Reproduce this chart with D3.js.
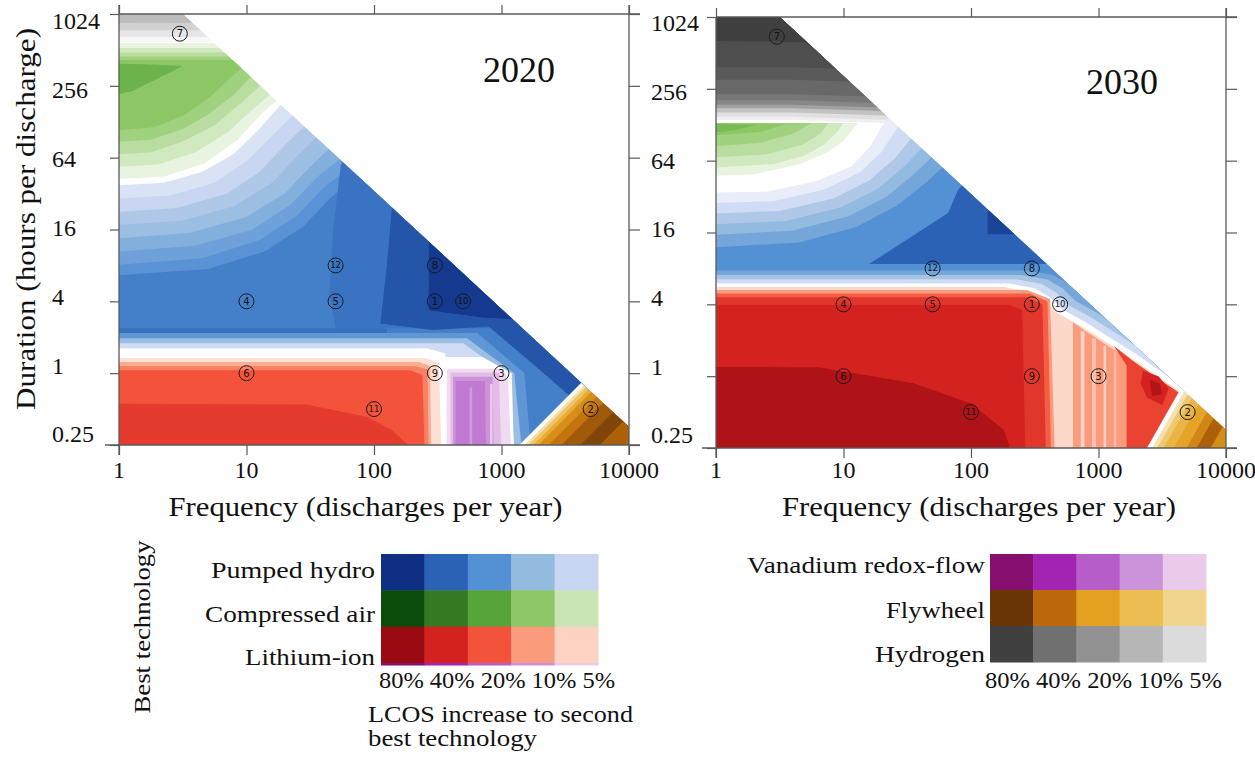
<!DOCTYPE html>
<html>
<head>
<meta charset="utf-8">
<script src="https://cdn.jsdelivr.net/npm/d3@7"></script>
<style>
  body { margin: 0; background: #fff; }
  text { font-family: "Liberation Serif", "Times New Roman", serif; fill: #111; }
</style>
</head>
<body>
<svg id="chart" width="1255" height="760"></svg>
<script>
/*global d3 */

//****************************1. Data

// axis ticks
const freqTicks = [1, 10, 100, 1000, 10000]
const durTicks = [0.25, 1, 4, 16, 64, 256, 1024]

// legend
const legendLevels = [80, 40, 20, 10, 5]
const legendLeft = ["Pumped hydro", "Compressed air", "Lithium-ion"]
const legendLeftKeys = ["P", "C", "L"]
const legendRight = ["Vanadium redox-flow", "Flywheel", "Hydrogen"]
const legendRightKeys = ["V", "F", "H"]

// numbered cases (same in both years)
const markerIds = [1, 2, 3, 4, 5, 6, 7, 8, 9, 10, 11, 12]
const markerFreq = [300, 5000, 1000, 10, 50, 10, 3, 300, 300, 500, 100, 50]
const markerDur = [4, 0.5, 1, 4, 4, 1, 700, 8, 1, 4, 0.5, 8]

// all shapes below are [log10(discharges per year), log2(hours per discharge)]
// feasible (triangular) area of the map
const feasible = [[0, 10], [0.5, 10], [4, -1.5], [4, -2], [0, -2]]

// contour bands, painted in order
// t = best technology, m = LCOS increase (%) to second best
const bands2020 = [
  {t:"H",m:1.5,p:[[-0.2,10.5],[4.5,10.5],[4.5,9.22],[-0.2,9.22]]},
  {t:"H",m:3,p:[[-0.2,10.5],[4.5,10.5],[4.5,9.36],[-0.2,9.36]]},
  {t:"H",m:6,p:[[-0.2,10.5],[4.5,10.5],[4.5,9.55],[-0.2,9.55]]},
  {t:"H",m:9,p:[[-0.2,10.5],[4.5,10.5],[4.5,9.8],[-0.2,9.75]]},
  {t:"C",m:2,p:[[-0.2,9.19],[4.5,9.19],[1.35,7.95],[1.12,7.23],[0.93,6.49],[0.67,5.84],[0.35,5.47],[-0.2,5.38]]},
  {t:"C",m:4,p:[[-0.2,9.05],[4.5,9.05],[1.3,8.1],[1.05,7.35],[0.85,6.7],[0.6,6.15],[0.3,5.8],[-0.2,5.72]]},
  {t:"C",m:6,p:[[-0.2,8.93],[4.5,8.93],[1.2,8.3],[0.95,7.5],[0.75,6.9],[0.5,6.45],[0.25,6.15],[-0.2,6.05]]},
  {t:"C",m:8,p:[[-0.2,8.82],[4.5,8.82],[1.1,8.5],[0.9,7.75],[0.7,7.2],[0.5,6.8],[0.25,6.5],[-0.2,6.4]]},
  {t:"C",m:10,p:[[-0.2,8.72],[4.5,8.72],[1.0,8.6],[0.88,8.25],[0.72,7.7],[0.52,7.2],[0.28,6.85],[-0.2,6.7]]},
  {t:"C",m:15,p:[[-0.2,8.63],[0.2,8.6],[0.5,8.55],[0.3,8.2],[0.1,7.85],[-0.2,7.6]]},
  {t:"P",m:3,p:[[-0.2,5.19],[0.35,5.3],[0.65,5.6],[0.9,6.1],[1.1,6.8],[1.35,7.8],[4.5,7.8],[4.5,-2.5],[-0.2,-2.5]]},
  {t:"P",m:5,p:[[-0.2,4.82],[0.4,4.95],[0.75,5.3],[1.0,5.9],[1.2,6.6],[1.45,7.5],[4.5,7.5],[4.5,-2.5],[-0.2,-2.5]]},
  {t:"P",m:7,p:[[-0.2,4.45],[0.45,4.6],[0.85,5.0],[1.1,5.6],[1.3,6.35],[1.55,7.2],[4.5,7.2],[4.5,-2.5],[-0.2,-2.5]]},
  {t:"P",m:9,p:[[-0.2,4.08],[0.5,4.25],[0.9,4.65],[1.2,5.3],[1.4,6.05],[1.65,6.9],[4.5,6.9],[4.5,-2.5],[-0.2,-2.5]]},
  {t:"P",m:12,p:[[-0.2,3.7],[0.55,3.9],[1.0,4.35],[1.3,5.0],[1.5,5.75],[1.75,6.6],[4.5,6.6],[4.5,-2.5],[-0.2,-2.5]]},
  {t:"P",m:15,p:[[-0.2,3.33],[0.6,3.55],[1.05,4.0],[1.35,4.7],[1.55,5.45],[1.85,6.3],[4.5,6.3],[4.5,-2.5],[-0.2,-2.5]]},
  {t:"P",m:19,p:[[-0.2,2.96],[0.65,3.2],[1.1,3.7],[1.4,4.4],[1.6,5.15],[1.9,6.0],[4.5,6.0],[4.5,-2.5],[-0.2,-2.5]]},
  {t:"P",m:26,p:[[-0.2,2.68],[0.7,2.9],[1.15,3.4],[1.45,4.1],[1.65,4.85],[1.95,5.75],[4.5,5.75],[4.5,-2.5],[-0.2,-2.5]]},
  {t:"P",m:31,p:[[1.8,6.2],[1.74,5.8],[1.68,3.98],[1.65,2.22],[1.7,1.25],[4.5,1.25],[4.5,6.2]]},
  {t:"P",m:33,p:[[-0.2,1.25],[2.1,1.25],[2.1,1.12],[-0.2,1.12]]},
  {t:"P",m:48,p:[[2.2,5.0],[2.14,4.6],[2.1,2.96],[2.05,1.38],[2.46,1.2],[2.9,1.3],[3.33,0],[3.75,-1.3],[4.5,-1.3],[4.5,5.0]]},
  {t:"P",m:70,p:[[2.43,4.0],[2.43,1.75],[2.85,1.55],[3.1,1.5],[3.5,1.5],[3.5,4.0]]},
  {t:"P",m:18,p:[[-0.2,1.12],[2.81,1.12],[3.18,0],[3.24,-2.5],[-0.2,-2.5]]},
  {t:"P",m:9,p:[[-0.2,0.97],[2.73,0.97],[3.1,0],[3.17,-2.5],[-0.2,-2.5]]},
  {t:"P",m:4,p:[[-0.2,0.83],[2.7,0.83],[3.03,0],[3.12,-2.5],[-0.2,-2.5]]},
  {t:"L",m:0,p:[[-0.2,0.69],[2.42,0.69],[2.56,0.55],[2.58,-2.5],[-0.2,-2.5]]},
  {t:"L",m:3,p:[[-0.2,0.42],[2.4,0.42],[2.51,0.3],[2.53,-2.5],[-0.2,-2.5]]},
  {t:"L",m:8,p:[[-0.2,0.31],[2.35,0.31],[2.44,0.2],[2.45,-2.5],[-0.2,-2.5]]},
  {t:"L",m:13,p:[[-0.2,0.2],[2.32,0.2],[2.42,0.1],[2.43,-2.5],[-0.2,-2.5]]},
  {t:"L",m:20,p:[[-0.2,0.08],[2.28,0.08],[2.38,-0.05],[2.4,-2.5],[-0.2,-2.5]]},
  {t:"L",m:28,p:[[-0.2,-0.85],[1.47,-0.87],[1.95,-1.22],[2.14,-1.59],[2.27,-2.0],[2.3,-2.5],[-0.2,-2.5]]},
  {t:"V",m:0,p:[[2.53,0.45],[2.85,0.45],[3.08,0],[3.1,-2.5],[2.53,-2.5]]},
  {t:"V",m:3,p:[[2.57,0.12],[3.0,0.12],[3.05,-0.1],[3.08,-2.5],[2.57,-2.5]]},
  {t:"V",m:6,p:[[2.6,0.02],[2.98,0.02],[3.0,-2.5],[2.6,-2.5]]},
  {t:"V",m:10,p:[[2.62,-0.1],[2.93,-0.1],[2.94,-2.5],[2.62,-2.5]]},
  {t:"V",m:14,p:[[2.64,-0.22],[2.87,-0.22],[2.88,-2.5],[2.64,-2.5]]},
  {t:"V",m:9,p:[[2.75,-0.4],[2.77,-0.4],[2.77,-2.5],[2.75,-2.5]]},
  {t:"V",m:5,p:[[2.91,-0.3],[2.93,-0.3],[2.93,-2.5],[2.91,-2.5]]},
  {t:"F",m:0,p:[[3.0,-2.5],[3.84,0.5],[4.6,0.5],[4.6,-2.5]]},
  {t:"F",m:3,p:[[3.04,-2.5],[3.88,0.5],[4.6,0.5],[4.6,-2.5]]},
  {t:"F",m:8,p:[[3.07,-2.5],[3.91,0.5],[4.6,0.5],[4.6,-2.5]]},
  {t:"F",m:15,p:[[3.11,-2.5],[3.95,0.5],[4.6,0.5],[4.6,-2.5]]},
  {t:"F",m:25,p:[[3.15,-2.5],[3.99,0.5],[4.6,0.5],[4.6,-2.5]]},
  {t:"F",m:35,p:[[3.23,-2.5],[4.07,0.5],[4.6,0.5],[4.6,-2.5]]},
  {t:"F",m:50,p:[[3.33,-2.5],[4.17,0.5],[4.6,0.5],[4.6,-2.5]]},
  {t:"F",m:65,p:[[3.48,-2.5],[4.32,0.5],[4.6,0.5],[4.6,-2.5]]},
  {t:"F",m:45,p:[[3.63,-2.5],[4.47,0.5],[4.6,0.5],[4.6,-2.5]]}
]

const bands2030 = [
  {t:"H",m:2,p:[[-0.2,10.5],[4.5,10.5],[4.5,6.93],[1.5,7.03],[0.6,7.13],[-0.2,7.13]]},
  {t:"H",m:4,p:[[-0.2,10.5],[4.5,10.5],[4.5,7.02],[1.5,7.12],[0.6,7.22],[-0.2,7.22]]},
  {t:"H",m:8,p:[[-0.2,10.5],[4.5,10.5],[4.5,7.14],[1.5,7.24],[0.6,7.34],[-0.2,7.34]]},
  {t:"H",m:15,p:[[-0.2,10.5],[4.5,10.5],[4.5,7.26],[1.5,7.36],[0.6,7.46],[-0.2,7.46]]},
  {t:"H",m:25,p:[[-0.2,10.5],[4.5,10.5],[4.5,7.36],[1.5,7.46],[0.6,7.56],[-0.2,7.56]]},
  {t:"H",m:35,p:[[-0.2,10.5],[4.5,10.5],[4.5,7.48],[1.5,7.58],[0.6,7.68],[-0.2,7.68]]},
  {t:"H",m:45,p:[[-0.2,10.5],[4.5,10.5],[4.5,7.65],[1.5,7.75],[0.6,7.85],[-0.2,7.85]]},
  {t:"H",m:55,p:[[-0.2,10.5],[4.5,10.5],[4.5,8.05],[1.5,8.15],[0.6,8.25],[-0.2,8.25]]},
  {t:"H",m:65,p:[[-0.2,10.5],[4.5,10.5],[4.5,8.4],[1.5,8.5],[0.6,8.6],[-0.2,8.6]]},
  {t:"H",m:80,p:[[-0.2,10.5],[4.5,10.5],[4.5,8.7],[0.9,8.7],[0.7,9.3],[-0.2,9.34]]},
  {t:"C",m:2,p:[[-0.2,7.05],[1.12,7.05],[1.08,6.9],[1.0,6.55],[0.87,6.23],[0.66,5.9],[0.3,5.62],[-0.2,5.55]]},
  {t:"C",m:4,p:[[-0.2,7.05],[1.0,7.05],[0.95,6.8],[0.85,6.45],[0.7,6.15],[0.45,5.9],[-0.2,5.78]]},
  {t:"C",m:6,p:[[-0.2,7.05],[0.88,7.05],[0.82,6.75],[0.68,6.45],[0.4,6.18],[-0.2,6.05]]},
  {t:"C",m:8,p:[[-0.2,7.05],[0.75,7.05],[0.6,6.75],[0.35,6.5],[-0.2,6.35]]},
  {t:"C",m:10,p:[[-0.2,7.05],[0.55,7.02],[0.35,6.8],[-0.2,6.65]]},
  {t:"C",m:13,p:[[-0.2,7.03],[0.32,7.0],[0.15,6.85],[-0.2,6.72]]},
  {t:"P",m:2,p:[[-0.2,5.1],[0.41,5.14],[0.78,5.42],[1.06,5.84],[1.21,6.4],[1.3,6.95],[1.45,7.6],[4.5,7.6],[4.5,-2.5],[-0.2,-2.5]]},
  {t:"P",m:4,p:[[-0.2,4.8],[0.45,4.87],[0.85,5.2],[1.13,5.68],[1.3,6.25],[1.42,6.9],[1.6,7.4],[4.5,7.4],[4.5,-2.5],[-0.2,-2.5]]},
  {t:"P",m:7,p:[[-0.2,4.5],[0.5,4.6],[0.92,4.95],[1.2,5.45],[1.4,6.05],[1.55,6.7],[1.75,7.2],[4.5,7.2],[4.5,-2.5],[-0.2,-2.5]]},
  {t:"P",m:10,p:[[-0.2,4.2],[0.55,4.32],[0.98,4.7],[1.27,5.22],[1.48,5.85],[1.65,6.5],[1.85,7.0],[4.5,7.0],[4.5,-2.5],[-0.2,-2.5]]},
  {t:"P",m:14,p:[[-0.2,3.9],[0.6,4.05],[1.04,4.45],[1.34,5.0],[1.56,5.65],[1.75,6.3],[1.95,6.8],[4.5,6.8],[4.5,-2.5],[-0.2,-2.5]]},
  {t:"P",m:20,p:[[-0.2,3.55],[0.65,3.72],[1.1,4.15],[1.42,4.75],[1.65,5.4],[1.85,6.05],[2.05,6.6],[4.5,6.6],[4.5,-2.5],[-0.2,-2.5]]},
  {t:"P",m:40,p:[[1.2,3.12],[1.82,4.54],[1.9,5.2],[2.0,5.6],[4.5,5.6],[4.5,3.12]]},
  {t:"P",m:60,p:[[2.13,3.95],[2.13,4.6],[2.7,4.6],[2.6,3.95]]},
  {t:"P",m:14,p:[[-0.2,2.94],[2.45,2.94],[2.65,2.81],[2.77,2.56],[2.87,2.21],[3.05,1.86],[3.25,1.41],[3.45,0.96],[3.65,0.46],[3.95,-0.24],[3.95,-2.5],[-0.2,-2.5]]},
  {t:"P",m:8,p:[[-0.2,2.82],[2.4,2.82],[2.6,2.69],[2.72,2.44],[2.82,2.09],[3.0,1.74],[3.2,1.29],[3.4,0.84],[3.6,0.34],[3.9,-0.36],[3.9,-2.5],[-0.2,-2.5]]},
  {t:"P",m:4,p:[[-0.2,2.7],[2.35,2.7],[2.55,2.57],[2.67,2.32],[2.77,1.97],[2.95,1.62],[3.15,1.17],[3.35,0.72],[3.55,0.22],[3.85,-0.48],[3.85,-2.5],[-0.2,-2.5]]},
  {t:"L",m:0,p:[[-0.2,2.58],[2.3,2.58],[2.5,2.45],[2.62,2.2],[2.72,1.85],[2.9,1.5],[3.1,1.05],[3.3,0.6],[3.5,0.1],[3.8,-0.6],[3.8,-2.5],[-0.2,-2.5]]},
  {t:"L",m:4,p:[[-0.2,2.48],[2.26,2.48],[2.46,2.35],[2.58,2.1],[2.68,1.75],[2.86,1.4],[3.06,0.95],[3.26,0.5],[3.46,0.0],[3.76,-0.7],[3.76,-2.5],[-0.2,-2.5]]},
  {t:"L",m:10,p:[[2.8,1.5],[2.88,1.3],[3.04,0.92],[3.24,0.47],[3.44,-0.03],[3.74,-0.72],[3.74,-2.5],[2.8,-2.5]]},
  {t:"L",m:5,p:[[2.86,1.25],[2.89,1.25],[2.89,-2.5],[2.86,-2.5]]},
  {t:"L",m:6,p:[[2.95,1.05],[2.98,1.05],[2.98,-2.5],[2.95,-2.5]]},
  {t:"L",m:5,p:[[3.04,0.85],[3.06,0.85],[3.06,-2.5],[3.04,-2.5]]},
  {t:"L",m:7,p:[[3.12,0.7],[3.14,0.7],[3.14,-2.5],[3.12,-2.5]]},
  {t:"L",m:25,p:[[3.12,0.85],[3.26,0.45],[3.45,-0.02],[3.74,-0.72],[3.74,-2.5],[3.22,-2.5],[3.22,0.3]]},
  {t:"L",m:40,p:[[3.35,0.15],[3.47,0.0],[3.55,-0.35],[3.5,-0.8],[3.38,-0.6],[3.33,-0.2]]},
  {t:"L",m:60,p:[[3.4,-0.1],[3.48,-0.2],[3.5,-0.5],[3.42,-0.55]]},
  {t:"L",m:10,p:[[-0.2,2.4],[2.44,2.4],[2.62,2.15],[2.66,-2.5],[-0.2,-2.5]]},
  {t:"L",m:18,p:[[-0.2,2.3],[2.46,2.3],[2.6,2.08],[2.63,-2.5],[-0.2,-2.5]]},
  {t:"L",m:30,p:[[-0.2,2.2],[2.44,2.2],[2.56,2.0],[2.59,-2.5],[-0.2,-2.5]]},
  {t:"L",m:40,p:[[-0.2,1.98],[2.3,1.98],[2.4,1.85],[2.43,-2.5],[-0.2,-2.5]]},
  {t:"L",m:62,p:[[-0.2,0.26],[0.8,0.25],[1.55,-0.2],[2.0,-0.76],[2.26,-1.5],[2.35,-2.5],[-0.2,-2.5]]},
  {t:"F",m:0,p:[[3.3,-2.5],[3.78,0.5],[4.6,0.5],[4.6,-2.5]]},
  {t:"F",m:3,p:[[3.34,-2.5],[3.82,0.5],[4.6,0.5],[4.6,-2.5]]},
  {t:"F",m:7,p:[[3.38,-2.5],[3.86,0.5],[4.6,0.5],[4.6,-2.5]]},
  {t:"F",m:12,p:[[3.43,-2.5],[3.91,0.5],[4.6,0.5],[4.6,-2.5]]},
  {t:"F",m:18,p:[[3.51,-2.5],[3.99,0.5],[4.6,0.5],[4.6,-2.5]]},
  {t:"F",m:28,p:[[3.61,-2.5],[4.09,0.5],[4.6,0.5],[4.6,-2.5]]},
  {t:"F",m:45,p:[[3.69,-2.5],[4.17,0.5],[4.6,0.5],[4.6,-2.5]]},
  {t:"F",m:25,p:[[3.8,-2.5],[4.28,0.5],[4.6,0.5],[4.6,-2.5]]}
]

//****************************2. Styles & layout

// legend colours, columns 80% .. 5%
const palette = {
  P: ["#0f2f85", "#2b62b6", "#5490d4", "#93badf", "#c9d6f1"],
  C: ["#0a4d0a", "#347a25", "#57a53a", "#8dc765", "#c9e5b5"],
  L: ["#9a0a12", "#d42220", "#f4533b", "#fb9b7d", "#fcd2c2"],
  V: ["#860f6f", "#a323b3", "#b75dca", "#cb93d9", "#eacaeb"],
  F: ["#6a3608", "#bb690b", "#e4a020", "#ecbd52", "#f1d58c"],
  H: ["#404040", "#707070", "#929292", "#b6b6b6", "#dbdbdb"]
}

const colorScales = {}
Object.keys(palette).forEach(k => {
  const s = d3.scaleLog()
    .domain([1, 5, 10, 20, 40, 80])
    .range(["#ffffff", ...palette[k].slice().reverse()])
    .clamp(true)
  colorScales[k] = m => s(Math.max(m, 1))
})

const panels = [
  { year: "2020", bands: bands2020, xRange: [119, 629], yRange: [445, 14], labRange: [434, 21], labX: 52, leftTop: 5, yearPos: [519, 82], titleX: 365.5 },
  { year: "2030", bands: bands2030, xRange: [716, 1226], yRange: [448, 17], labRange: [435, 23], labX: 651, leftTop: 17, yearPos: [1122, 94], titleX: 979 }
]

const frameColor = "#5a5a5a"
const fmt = d3.format("~g")

const svg = d3.select("#chart")
svg.append("rect").attr("width", 1255).attr("height", 760).attr("fill", "#fff")

function fit(sel, w) {
  return sel.attr("textLength", w).attr("lengthAdjust", "spacingAndGlyphs")
}

//****************************3. Panels

panels.forEach(cfg => {
  const xs = d3.scaleLog().domain([1, 10000]).range(cfg.xRange)
  const ys = d3.scaleLog().base(2).domain([0.25, 1024]).range(cfg.yRange)
  const yLab = d3.scaleLog().base(2).domain([0.25, 1024]).range(cfg.labRange)
  const area = d3.line()
    .x(p => xs(Math.pow(10, p[0])))
    .y(p => ys(Math.pow(2, p[1])))
    .curve(d3.curveLinearClosed)

  const [xl, xr] = cfg.xRange
  const [yb, yt] = cfg.yRange
  const g = svg.append("g")

  g.append("clipPath").attr("id", "clip" + cfg.year)
    .append("path").attr("d", area(feasible))

  const field = g.append("g").attr("clip-path", `url(#clip${cfg.year})`)
  field.append("path").attr("d", area(feasible)).attr("fill", "#fff")
  field.selectAll("path.band")
    .data(cfg.bands)
    .join("path")
    .attr("class", "band")
    .attr("d", d => area(d.p))
    .attr("fill", d => colorScales[d.t](d.m))

  // ticks on all four sides
  const tickStyle = a => {
    a.select(".domain").remove()
    a.selectAll(".tick line").attr("stroke", frameColor).attr("stroke-width", 1.2)
  }
  g.append("g").attr("transform", `translate(0,${yb})`)
    .call(d3.axisBottom(xs).tickValues(freqTicks).tickFormat("").tickSize(10)).call(tickStyle)
  g.append("g").attr("transform", `translate(0,${yt})`)
    .call(d3.axisTop(xs).tickValues(freqTicks).tickFormat("").tickSize(9)).call(tickStyle)
  g.append("g").attr("transform", `translate(${xr},0)`)
    .call(d3.axisRight(ys).tickValues(durTicks).tickFormat("").tickSize(11)).call(tickStyle)
  g.append("g").attr("transform", `translate(${xl},0)`)
    .call(d3.axisLeft(ys).tickValues(durTicks).tickFormat("").tickSize(9)).call(tickStyle)

  // frame
  const frame = [
    [xl, yt, xr + 11, yt],
    [xr, yt - 9, xr, yb + 10],
    [xl - 14, yb, xr + 11, yb],
    [xl, cfg.leftTop, xl, yb + 10]
  ]
  g.selectAll("line.frame").data(frame).join("line")
    .attr("class", "frame")
    .attr("x1", d => d[0]).attr("y1", d => d[1])
    .attr("x2", d => d[2]).attr("y2", d => d[3])
    .attr("stroke", frameColor).attr("stroke-width", 1.3)

  // tick labels
  g.selectAll("text.xlab").data(freqTicks).join("text")
    .attr("class", "xlab")
    .attr("x", d => xs(d)).attr("y", 478)
    .attr("text-anchor", "middle")
    .attr("font-size", 24)
    .text(fmt)
  g.selectAll("text.ylab").data(durTicks).join("text")
    .attr("class", "ylab")
    .attr("x", cfg.labX).attr("y", d => yLab(d))
    .attr("dy", "0.35em")
    .attr("font-size", 24)
    .text(fmt)

  // axis title
  fit(g.append("text")
    .attr("x", cfg.titleX).attr("y", 516)
    .attr("text-anchor", "middle")
    .attr("font-size", 27)
    .text("Frequency (discharges per year)"), 394)

  // year
  g.append("text")
    .attr("x", cfg.yearPos[0]).attr("y", cfg.yearPos[1])
    .attr("text-anchor", "middle")
    .attr("font-size", 36)
    .text(cfg.year)

  // numbered cases
  const mk = g.selectAll("g.marker")
    .data(markerIds.map((id, i) => ({ id, f: markerFreq[i], d: markerDur[i] })))
    .join("g")
    .attr("class", "marker")
    .attr("transform", d => `translate(${xs(d.f)},${ys(d.d)})`)
  mk.append("circle").attr("r", 7.5)
    .attr("fill", "none").attr("stroke", "#1a1a1a").attr("stroke-width", 1)
  mk.append("text")
    .attr("text-anchor", "middle").attr("dy", "0.36em")
    .style("font-family", "'DejaVu Sans', sans-serif")
    .attr("font-size", d => d.id > 9 ? 8.5 : 10)
    .text(d => d.id)
})

// y title (shared)
fit(svg.append("text")
  .attr("transform", "translate(35,219) rotate(-90)")
  .attr("text-anchor", "middle")
  .attr("font-size", 27)
  .text("Duration (hours per discharge)"), 382)

//****************************4. Legends

function drawLegend(labels, keys, box) {
  const xb = d3.scaleBand().domain(legendLevels).range(box.x)
  const yb = d3.scaleBand().domain(keys).range(box.y)
  const g = svg.append("g")
  keys.forEach(k => {
    g.selectAll(null).data(legendLevels).join("rect")
      .attr("x", d => xb(d)).attr("y", yb(k))
      .attr("width", xb.bandwidth() + 0.5).attr("height", yb.bandwidth() + 0.5)
      .attr("fill", d => colorScales[k](d))
  })
  labels.forEach((lab, i) => {
    fit(g.append("text")
      .attr("x", box.labelX).attr("y", box.labelY0 + i * box.labelStep)
      .attr("text-anchor", "end")
      .attr("font-size", 24)
      .text(lab), box.labelW[i])
  })
  fit(g.append("text")
    .attr("x", box.pctX).attr("y", box.pctY)
    .attr("font-size", 24)
    .text(legendLevels.map(d => d + "%").join(" ")), box.pctW)
  return { g, xb }
}

const left = drawLegend(legendLeft, legendLeftKeys, {
  x: [381, 598], y: [554, 663], labelX: 375, labelY0: 578, labelStep: 43.5,
  labelW: [164, 170, 130], pctX: 379, pctY: 688, pctW: 236
})
// the next palette row peeks out under the first legend
left.g.selectAll(null).data(legendLevels).join("rect")
  .attr("x", d => left.xb(d)).attr("y", 663)
  .attr("width", left.xb.bandwidth() + 0.5).attr("height", 2.5)
  .attr("fill", d => colorScales.V(d))

fit(svg.append("text").attr("x", 368).attr("y", 722).attr("font-size", 24)
  .text("LCOS increase to second"), 265)
fit(svg.append("text").attr("x", 368).attr("y", 746).attr("font-size", 24)
  .text("best technology"), 169)
fit(svg.append("text")
  .attr("transform", "translate(150,627) rotate(-90)")
  .attr("text-anchor", "middle")
  .attr("font-size", 24)
  .text("Best technology"), 173)

drawLegend(legendRight, legendRightKeys, {
  x: [990, 1206], y: [554, 662], labelX: 985, labelY0: 573, labelStep: 44.5,
  labelW: [238, 99, 110], pctX: 985, pctY: 688, pctW: 237
})
</script>
</body>
</html>
